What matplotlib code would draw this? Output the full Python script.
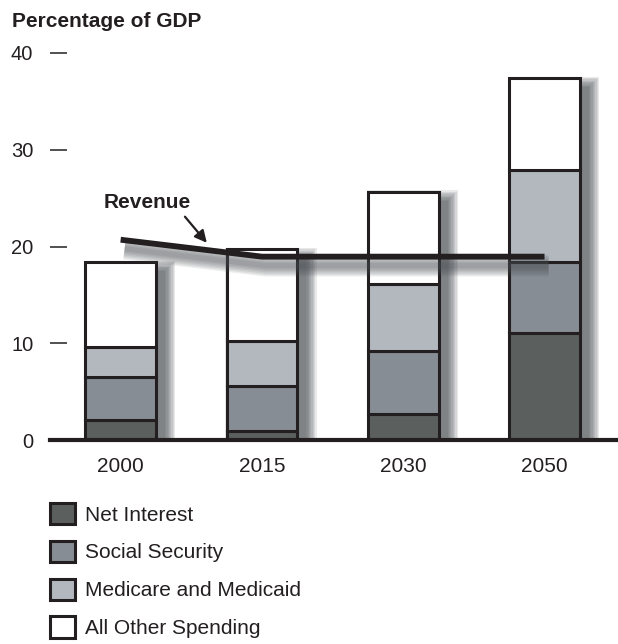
import numpy as np
import matplotlib.pyplot as plt
from matplotlib.patches import Rectangle, Patch

years = ['2000', '2015', '2030', '2050']
net_interest = [2.1, 0.95, 2.7, 11.1]
social_security = [4.4, 4.6, 6.5, 7.3]
medicare_medicaid = [3.1, 4.65, 6.9, 9.55]
all_other = [8.8, 9.5, 9.55, 9.45]
revenue = [20.7, 18.95, 18.95, 18.95]

series_names = ['Net Interest', 'Social Security', 'Medicare and Medicaid', 'All Other Spending']
series_colors = ['#5b605f', '#878d94', '#b3b8bf', '#ffffff']
ink = '#231f20'
shade = '#4a4f54'

plt.rcParams['font.family'] = ['Liberation Sans', 'DejaVu Sans']

fig = plt.figure(figsize=(6.18, 6.44), dpi=100)
ax = fig.add_axes([50/618, 204/644, 568/618, 387/644])
ax.set_facecolor('none')
xmin, xmax = -0.5, 3.52
ax.set_xlim(xmin, xmax)
ax.set_ylim(0, 40)

x = np.arange(len(years))
width = 0.5

# size of one pixel in data units, for the shadow offsets
px_x = (xmax - xmin) / 568
px_y = 40 / 387

stack = np.array([net_interest, social_security, medicare_medicaid, all_other])
totals = stack.sum(axis=0)
bottoms = np.vstack([np.zeros(len(years)), np.cumsum(stack, axis=0)[:-1]])

# soft drop shadow behind each bar, built from stacked translucent rects
off = 9
for xi, tot in zip(x, totals):
    for k in range(9):
        grow = k * 1.3
        ax.add_patch(Rectangle((xi - width/2 + (off - grow)*px_x, 0),
                               width + 2*grow*px_x, tot - (off - grow)*px_y,
                               color=shade, alpha=0.12, lw=0, zorder=1))

for i in range(len(series_names)):
    ax.bar(x, stack[i], width, bottom=bottoms[i], color=series_colors[i],
           edgecolor=ink, linewidth=2.2, zorder=2)

# revenue line with a blurred shadow underneath
rev = np.array(revenue)
for k in range(7):
    ax.plot(x + 4*px_x, rev - 9*px_y, lw=3.6 + 2.0*k, color=shade, alpha=0.1,
            solid_capstyle='butt', zorder=3)
ax.plot(x, rev, lw=4.2, color=ink, solid_capstyle='butt', solid_joinstyle='miter', zorder=4)

ax.text(0.19, 24.5, 'Revenue', fontsize=15, fontweight='bold', color=ink,
        ha='center', va='center')
head_x = 0.61
head_y = np.interp(head_x, x, rev) + 0.75
ax.annotate('', xy=(head_x, head_y), xytext=(head_x - 0.155, head_y + 2.7),
            arrowprops=dict(arrowstyle='-|>', color=ink, lw=1.6, mutation_scale=18,
                            shrinkA=0, shrinkB=0))

ax.axhline(0, color=ink, lw=3, zorder=5, clip_on=False)

for s in ax.spines.values():
    s.set_visible(False)
ax.set_yticks([0, 10, 20, 30, 40])
ax.tick_params(axis='y', direction='in', length=12, width=1.1, color=ink, pad=12,
               labelsize=14.5, labelcolor=ink)
ax.set_xticks(x, years)
ax.tick_params(axis='x', length=0, pad=12, labelsize=15, labelcolor=ink)

fig.text(12/618, 1 - 27/644, 'Percentage of GDP', fontsize=15, fontweight='bold',
         color=ink, va='baseline')

handles = [Patch(facecolor=c, edgecolor=ink, linewidth=2.2) for c in series_colors]
leg = fig.legend(handles, series_names, loc='upper left', bbox_to_anchor=(50/618, 1 - 503/644),
                 frameon=False, fontsize=15, handlelength=1.2, handleheight=1.2,
                 handletextpad=0.5, labelspacing=0.77, borderpad=0, borderaxespad=0)
for t in leg.get_texts():
    t.set_color(ink)

fig.savefig('out.png', dpi=100)
